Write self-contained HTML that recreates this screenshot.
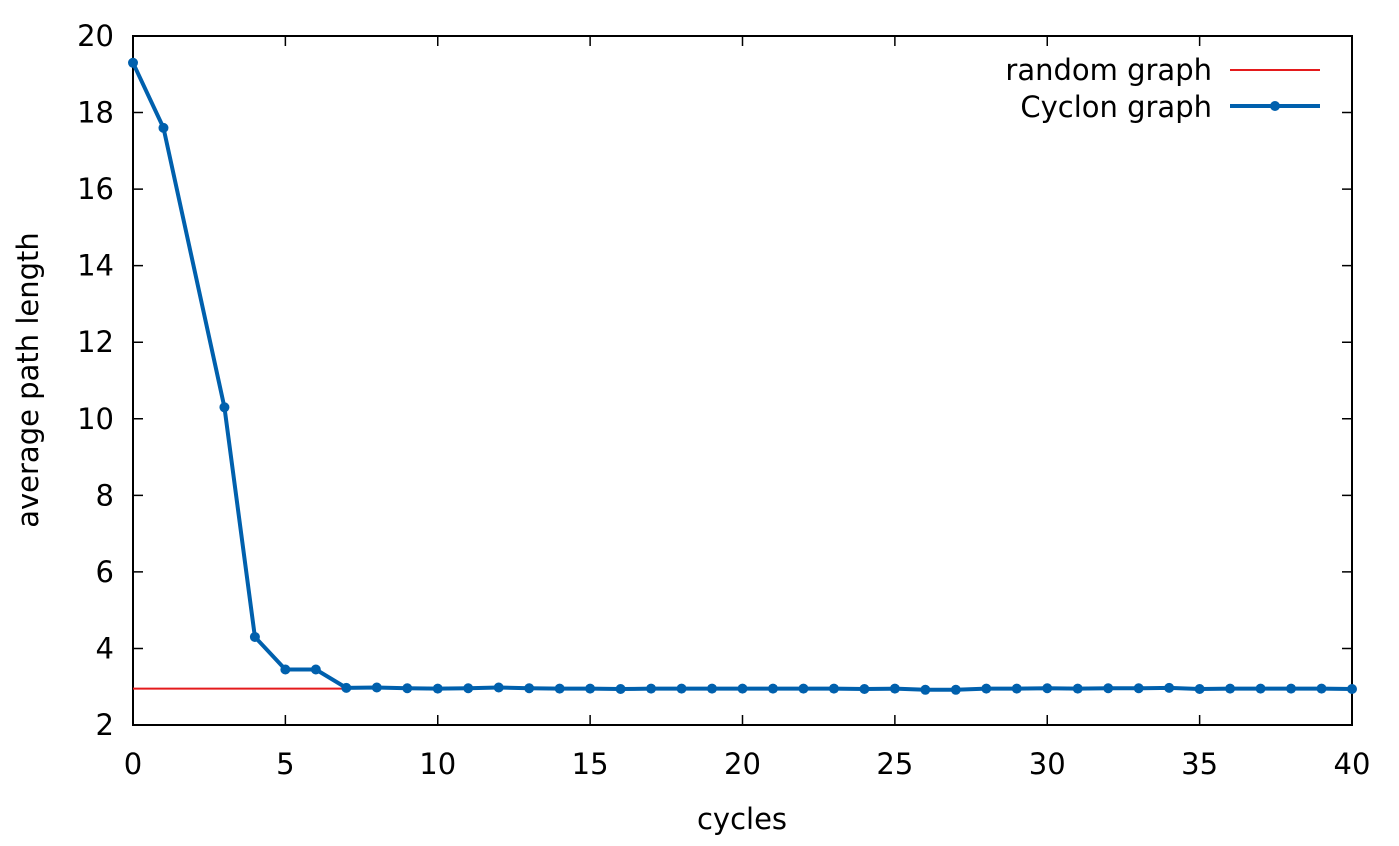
<!DOCTYPE html>
<html><head><meta charset="utf-8"><style>
html,body{margin:0;padding:0;background:#fff;}
svg text{font-family:"DejaVu Sans","Liberation Sans",sans-serif;font-size:29px;fill:#000;}
</style></head><body>
<svg id="chart" width="1399" height="841" xmlns="http://www.w3.org/2000/svg">
<g id="axes"></g>
<g id="series"></g>
<text transform="translate(38,380) rotate(-90)" text-anchor="middle">average path length</text>
<text x="742" y="829" text-anchor="middle">cycles</text>
<g>
<text x="1212" y="80" text-anchor="end">random graph</text>
<line x1="1230" y1="70" x2="1320" y2="70" stroke="#e41a1c" stroke-width="2"/>
<text x="1212" y="117" text-anchor="end">Cyclon graph</text>
<line x1="1230" y1="106" x2="1320" y2="106" stroke="#0060ad" stroke-width="4"/>
<circle cx="1275" cy="106" r="5" fill="#0060ad"/>
</g>
</svg>
<script>
const xTicks=[0,5,10,15,20,25,30,35,40];
const yTicks=[2,4,6,8,10,12,14,16,18,20];
const cycX=[0,1,3,4,5,6,7,8,9,10,11,12,13,14,15,16,17,18,19,20,21,22,23,24,25,26,27,28,29,30,31,32,33,34,35,36,37,38,39,40];
const cycY=[19.3,17.6,10.3,4.3,3.45,3.45,2.97,2.98,2.96,2.95,2.96,2.98,2.96,2.95,2.95,2.94,2.95,2.95,2.95,2.95,2.95,2.95,2.95,2.94,2.95,2.92,2.92,2.95,2.95,2.96,2.95,2.96,2.96,2.97,2.94,2.95,2.95,2.95,2.95,2.94];
const randX=[0,7];
const randY=[2.95,2.95];
const L=133,R=1352,T=36,B=725;
const sx=v=>L+(v-0)/(40-0)*(R-L);
const sy=v=>B-(v-2)/(20-2)*(B-T);
const NS="http://www.w3.org/2000/svg";
function mk(tag,attrs,parent){const e=document.createElementNS(NS,tag);for(const k in attrs)e.setAttribute(k,attrs[k]);parent.appendChild(e);return e;}
const ax=document.getElementById('axes');
const fr=mk('rect',{x:L,y:T,width:R-L,height:B-T,fill:'none',stroke:'#000','stroke-width':2},ax);


xTicks.forEach(v=>{
  const t=mk('path',{d:`M${sx(v)},${B}v-10M${sx(v)},${T}v10`,stroke:'#000','stroke-width':1.5},ax);
  
  
  const l=mk('text',{x:sx(v),y:B+49,'text-anchor':'middle'},ax);l.textContent=v;
  
  
});
yTicks.forEach(v=>{
  const t=mk('path',{d:`M${L},${sy(v)}h10M${R},${sy(v)}h-10`,stroke:'#000','stroke-width':1.5},ax);
  
  
  const l=mk('text',{x:L-19,y:sy(v)+10,'text-anchor':'end'},ax);l.textContent=v;
  
  
});
const sg=document.getElementById('series');
const rl=mk('polyline',{points:randX.map((x,i)=>sx(x)+','+sy(randY[i])).join(' '),fill:'none',stroke:'#e41a1c','stroke-width':2},sg);


const cl=mk('polyline',{points:cycX.map((x,i)=>sx(x)+','+sy(cycY[i])).join(' '),fill:'none',stroke:'#0060ad','stroke-width':4,'stroke-linejoin':'round'},sg);


cycX.forEach((x,i)=>{
  const c=mk('circle',{cx:sx(x),cy:sy(cycY[i]),r:5,fill:'#0060ad'},sg);
  
  
});
</script>
</body></html>
